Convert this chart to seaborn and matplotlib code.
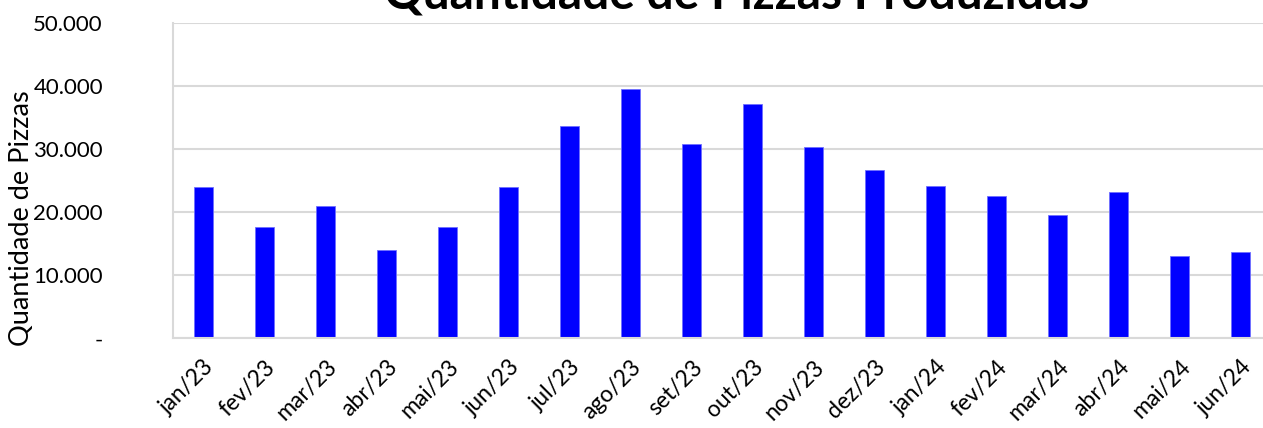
import numpy as np
import pandas as pd
import matplotlib
matplotlib.use("Agg")
import matplotlib.pyplot as plt
import matplotlib.ticker as mticker
import seaborn as sns

### Data

meses = ["jan/23", "fev/23", "mar/23", "abr/23", "mai/23", "jun/23",
         "jul/23", "ago/23", "set/23", "out/23", "nov/23", "dez/23",
         "jan/24", "fev/24", "mar/24", "abr/24", "mai/24", "jun/24"]
pizzas = [24050, 17700, 21050, 13950, 17600, 24050,
          33650, 39500, 30800, 37200, 30400, 26700,
          24100, 22600, 19500, 23200, 13050, 13650]
y_ticks = [0, 10000, 20000, 30000, 40000, 50000]

df = pd.DataFrame({"mes": meses, "pizzas": pizzas})

### Helpers

def fmt_milhar(v, pos=None):
    """Excel style thousands: dot separator, zero shown as a dash"""
    if v == 0:
        return "-"
    return "{:,.0f}".format(v).replace(",", ".")

### Plot

sns.set_style("white")
plt.rcParams["font.family"] = ["Lato", "DejaVu Sans"]
plt.rcParams["text.color"] = "black"
plt.rcParams["axes.labelcolor"] = "black"
GRID = "#d9d9d9"

fig = plt.figure(figsize=(12.63, 4.28), dpi=100)
ax = fig.add_axes([0.137, 0.2096, 0.8694, 0.7367])

sns.barplot(data=df, x="mes", y="pizzas", color="#0000ff", saturation=1,
            width=0.31, edgecolor="#6f6fff", linewidth=0.6, ax=ax)

ax.set_xlim(-0.5, len(meses) - 0.5)
ax.set_ylim(0, 50000)
ax.set_yticks(y_ticks)
ax.yaxis.set_major_formatter(mticker.FuncFormatter(fmt_milhar))
ax.grid(axis="y", color=GRID, linewidth=1.5)
ax.set_axisbelow(True)

for side in ["top", "right"]:
    ax.spines[side].set_visible(False)
for side in ["left", "bottom"]:
    ax.spines[side].set_color(GRID)
    ax.spines[side].set_linewidth(1.5)

# category boundary ticks like excel
ax.set_xticks(np.arange(-0.5, len(meses), 1.0), minor=True)
ax.tick_params(axis="x", which="minor", length=6.5, width=1.5, color=GRID)
ax.tick_params(axis="x", which="major", length=0, pad=13, labelsize=16.5,
               labelcolor="black")
ax.tick_params(axis="y", length=6.5, width=1.5, color=GRID, pad=44, labelsize=16,
               labelcolor="black")
for lbl in ax.get_yticklabels():
    lbl.set_horizontalalignment("right")

plt.setp(ax.get_xticklabels(), rotation=45, ha="right", va="top",
         rotation_mode="anchor")

ax.set_xlabel("")
ax.set_ylabel("Quantidade de Pizzas", fontsize=19.5, color="black")
ax.yaxis.set_label_coords(-0.127, 0.38)

fig.text(0.5835, 0.979, "Quantidade de Pizzas Produzidas", ha="center",
         va="baseline", fontsize=34.5, fontweight="bold", color="black")

fig.savefig("out.png", dpi=100)
